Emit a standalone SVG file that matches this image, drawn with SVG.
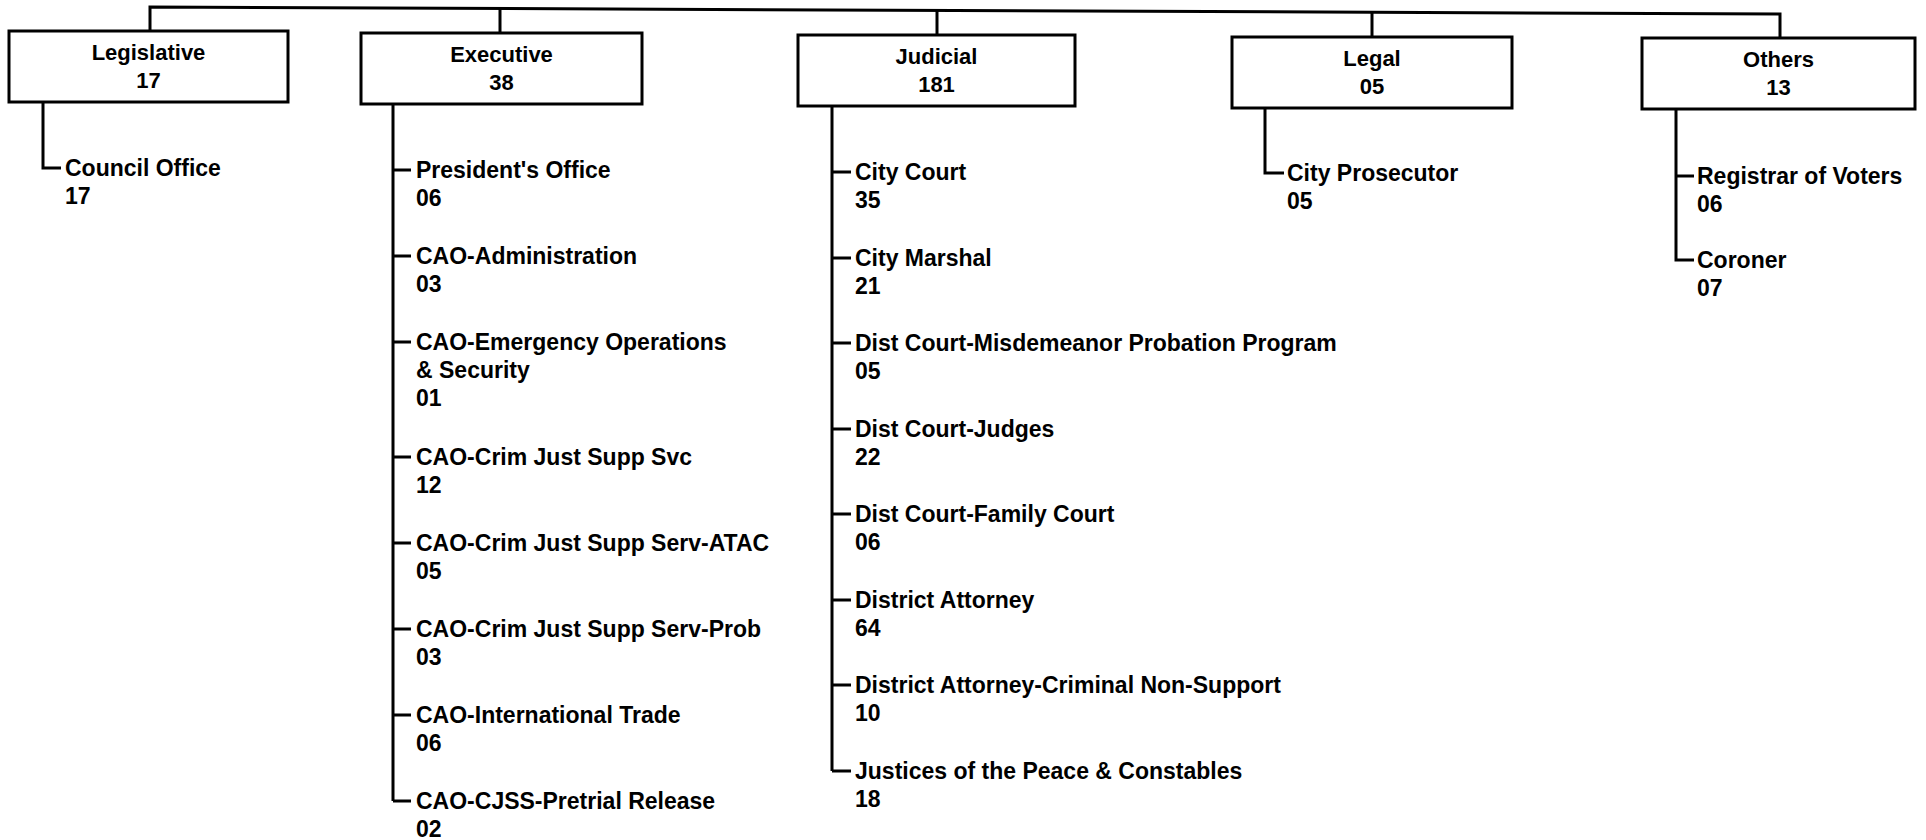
<svg xmlns="http://www.w3.org/2000/svg" width="1926" height="840" viewBox="0 0 1926 840">
<style>
.bg{fill:#ffffff}
.box{fill:#ffffff;stroke:#000;stroke-width:3}
.ln{fill:none;stroke:#000;stroke-width:3}
.h{font-family:"Liberation Sans",Arial,sans-serif;font-weight:bold;font-size:22px;fill:#000;text-anchor:middle}
.t{font-family:"Liberation Sans",Arial,sans-serif;font-weight:bold;font-size:23px;fill:#000}
</style>
<rect class="bg" x="0" y="0" width="1926" height="840"/>
<g id="connectors">
<polyline class="ln" points="150,31 150,7 1780,14 1780,38"/>
<line class="ln" x1="500" y1="8.5" x2="500" y2="33"/>
<line class="ln" x1="937" y1="10.4" x2="937" y2="35"/>
<line class="ln" x1="1372" y1="12.3" x2="1372" y2="37"/>
<polyline class="ln" points="43,102 43,168 61,168"/>
<line class="ln" x1="393" y1="104" x2="393" y2="801"/>
<path class="ln" d="M393,170H411M393,256H411M393,342H411M393,457H411M393,543H411M393,629H411M393,715H411M393,801H411"/>
<line class="ln" x1="832" y1="106" x2="832" y2="771"/>
<path class="ln" d="M832,172H851M832,258H851M832,343H851M832,429H851M832,514H851M832,600H851M832,685H851M832,771H851"/>
<polyline class="ln" points="1265,108 1265,173 1284,173"/>
<polyline class="ln" points="1676,109 1676,260 1694,260"/>
<line class="ln" x1="1676" y1="176" x2="1694" y2="176"/>
</g>
<g id="legislative">
<rect class="box" x="9" y="31" width="279" height="71"/>
<text class="h" x="148.5" y="60">Legislative</text>
<text class="h" x="148.5" y="88">17</text>
</g>
<g id="executive">
<rect class="box" x="361" y="33" width="281" height="71"/>
<text class="h" x="501.5" y="62">Executive</text>
<text class="h" x="501.5" y="90">38</text>
</g>
<g id="judicial">
<rect class="box" x="798" y="35" width="277" height="71"/>
<text class="h" x="936.5" y="64">Judicial</text>
<text class="h" x="936.5" y="92">181</text>
</g>
<g id="legal">
<rect class="box" x="1232" y="37" width="280" height="71"/>
<text class="h" x="1372" y="66">Legal</text>
<text class="h" x="1372" y="94">05</text>
</g>
<g id="others">
<rect class="box" x="1642" y="38" width="273" height="71"/>
<text class="h" x="1778.5" y="67">Others</text>
<text class="h" x="1778.5" y="95">13</text>
</g>
<g id="council-office"><text class="t" x="65" y="176">Council Office<tspan x="65" dy="28">17</tspan></text></g>
<g id="presidents-office"><text class="t" x="416" y="178">President's Office<tspan x="416" dy="28">06</tspan></text></g>
<g id="cao-administration"><text class="t" x="416" y="264">CAO-Administration<tspan x="416" dy="28">03</tspan></text></g>
<g id="cao-emergency"><text class="t" x="416" y="350">CAO-Emergency Operations<tspan x="416" dy="28">&amp; Security</tspan><tspan x="416" dy="28">01</tspan></text></g>
<g id="cao-cjss-svc"><text class="t" x="416" y="465">CAO-Crim Just Supp Svc<tspan x="416" dy="28">12</tspan></text></g>
<g id="cao-cjss-atac"><text class="t" x="416" y="551">CAO-Crim Just Supp Serv-ATAC<tspan x="416" dy="28">05</tspan></text></g>
<g id="cao-cjss-prob"><text class="t" x="416" y="637">CAO-Crim Just Supp Serv-Prob<tspan x="416" dy="28">03</tspan></text></g>
<g id="cao-intl-trade"><text class="t" x="416" y="723">CAO-International Trade<tspan x="416" dy="28">06</tspan></text></g>
<g id="cao-pretrial"><text class="t" x="416" y="809">CAO-CJSS-Pretrial Release<tspan x="416" dy="28">02</tspan></text></g>
<g id="city-court"><text class="t" x="855" y="180">City Court<tspan x="855" dy="28">35</tspan></text></g>
<g id="city-marshal"><text class="t" x="855" y="266">City Marshal<tspan x="855" dy="28">21</tspan></text></g>
<g id="dist-court-mpp"><text class="t" x="855" y="351">Dist Court-Misdemeanor Probation Program<tspan x="855" dy="28">05</tspan></text></g>
<g id="dist-court-judges"><text class="t" x="855" y="437">Dist Court-Judges<tspan x="855" dy="28">22</tspan></text></g>
<g id="dist-court-family"><text class="t" x="855" y="522">Dist Court-Family Court<tspan x="855" dy="28">06</tspan></text></g>
<g id="district-attorney"><text class="t" x="855" y="608">District Attorney<tspan x="855" dy="28">64</tspan></text></g>
<g id="da-cns"><text class="t" x="855" y="693">District Attorney-Criminal Non-Support<tspan x="855" dy="28">10</tspan></text></g>
<g id="jp-constables"><text class="t" x="855" y="779">Justices of the Peace &amp; Constables<tspan x="855" dy="28">18</tspan></text></g>
<g id="city-prosecutor"><text class="t" x="1287" y="181">City Prosecutor<tspan x="1287" dy="28">05</tspan></text></g>
<g id="registrar"><text class="t" x="1697" y="184">Registrar of Voters<tspan x="1697" dy="28">06</tspan></text></g>
<g id="coroner"><text class="t" x="1697" y="268">Coroner<tspan x="1697" dy="28">07</tspan></text></g>
</svg>
